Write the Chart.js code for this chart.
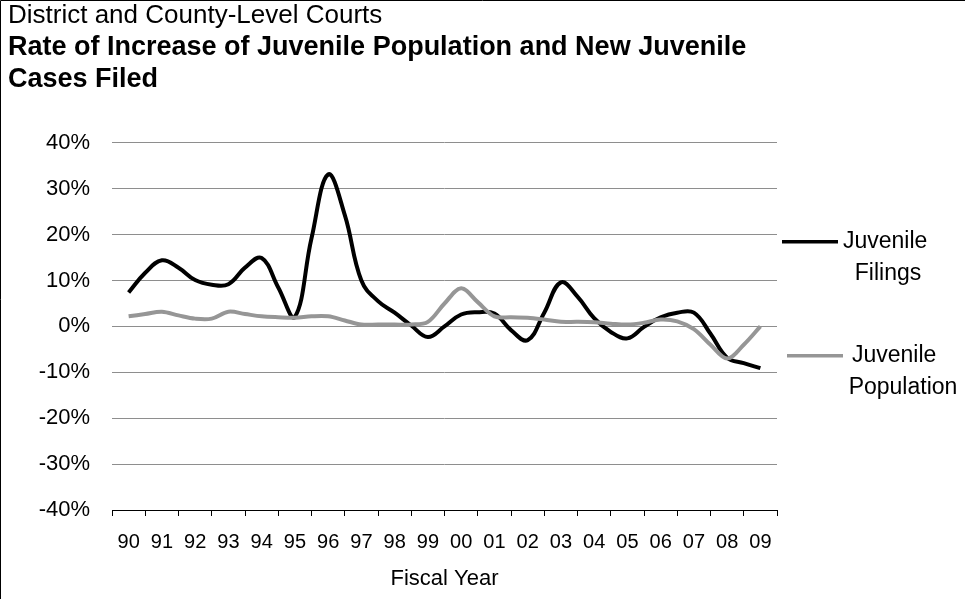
<!DOCTYPE html>
<html>
<head>
<meta charset="utf-8">
<script src="https://cdn.jsdelivr.net/npm/chart.js@4.4.0/dist/chart.umd.min.js"></script>
<style>
  html, body { margin: 0; padding: 0; background: #fff; }
  canvas { display: block; }
</style>
</head>
<body>
<canvas id="chart" width="965" height="599"></canvas>
<script>
// Fiscal year labels on the category axis
const yearLabels = ['90', '91', '92', '93', '94', '95', '96', '97', '98', '99',
                    '00', '01', '02', '03', '04', '05', '06', '07', '08', '09'];

// Half-year readings (%), from 90 through 09
const filings = [7.4, 11.7, 14.4, 12.8, 10.1, 9.1, 9.2, 12.8, 14.9, 8.5,
                 2.1, 19.2, 33.1, 24.3, 10.0, 5.5, 3.0, 0.2, -2.3, 0.0,
                 2.6, 3.1, 2.8, -0.8, -3.0, 3.0, 9.6, 6.5, 1.8, -1.2,
                 -2.6, -0.1, 2.0, 3.0, 3.0, -1.6, -6.8, -8.0, -9.1];
const population = [2.2, 2.7, 3.2, 2.4, 1.7, 1.7, 3.2, 2.7, 2.2, 2.0,
                    1.9, 2.2, 2.2, 1.3, 0.4, 0.4, 0.4, 0.4, 1.0, 5.0,
                    8.3, 5.3, 2.2, 2.0, 1.9, 1.5, 1.0, 1.0, 0.9, 0.6,
                    0.4, 0.8, 1.5, 1.1, -0.6, -4.0, -7.0, -4.0, 0.0];

const seriesNames = [['Juvenile', 'Filings'], ['Juvenile', 'Population']];
const seriesColors = ['#000000', '#969696'];
const yTicks = [-40, -30, -20, -10, 0, 10, 20, 30, 40];

const FONT = "'Liberation Sans', Arial, sans-serif";

// points sit every half year, 0 = centre of '90'
const toPoints = (arr) => arr.map((v, i) => ({x: i / 2, y: v}));

// Legend drawn by hand so the labels can wrap over two lines
const sideLegend = {
  id: 'sideLegend',
  afterDraw(chart) {
    const {ctx, chartArea} = chart;
    const x0 = chartArea.right;
    const items = [
      {lineFrom: 5, lineTo: 61, y: chartArea.top + 99, firstX: 66, centre: 111},
      {lineFrom: 10, lineTo: 66, y: chartArea.top + 213, firstX: 75, centre: 126}
    ];
    ctx.save();
    ctx.font = '23px ' + FONT;
    ctx.fillStyle = '#000';
    ctx.textBaseline = 'middle';
    items.forEach((it, i) => {
      ctx.beginPath();
      ctx.moveTo(x0 + it.lineFrom, it.y);
      ctx.lineTo(x0 + it.lineTo, it.y);
      ctx.strokeStyle = seriesColors[i];
      ctx.lineWidth = 3.5;
      ctx.stroke();
      ctx.textAlign = 'left';
      ctx.fillText(seriesNames[i][0], x0 + it.firstX, it.y);
      ctx.textAlign = 'center';
      ctx.fillText(seriesNames[i][1], x0 + it.centre, it.y + 32);
    });
    // outer frame, left and top edge
    ctx.beginPath();
    ctx.moveTo(0.5, chart.height);
    ctx.lineTo(0.5, 0.5);
    ctx.lineTo(chart.width, 0.5);
    ctx.strokeStyle = '#000';
    ctx.lineWidth = 1;
    ctx.stroke();
    ctx.restore();
  }
};

const chart = new Chart(document.getElementById('chart'), {
  type: 'line',
  data: {
    labels: yearLabels,
    datasets: [
      {
        label: seriesNames[0].join(' '),
        data: toPoints(filings),
        xAxisID: 'xd',
        borderColor: seriesColors[0],
        borderWidth: 4,
        tension: 0.4,
        pointRadius: 0,
        fill: false
      },
      {
        label: seriesNames[1].join(' '),
        data: toPoints(population),
        xAxisID: 'xd',
        borderColor: seriesColors[1],
        borderWidth: 4,
        tension: 0.35,
        pointRadius: 0,
        fill: false
      }
    ].reverse()
  },
  options: {
    responsive: false,
    animation: false,
    layout: { padding: { left: 8, right: 188, top: 0, bottom: 7 } },
    plugins: {
      legend: { display: false },
      tooltip: { enabled: false },
      title: {
        display: true,
        text: 'District and County-Level Courts',
        align: 'start',
        color: '#000',
        font: { family: FONT, size: 26, weight: 'normal', lineHeight: 1.2 },
        padding: { top: 0, bottom: 0 }
      },
      subtitle: {
        display: true,
        text: ['Rate of Increase of Juvenile Population and New Juvenile', 'Cases Filed'],
        align: 'start',
        color: '#000',
        font: { family: FONT, size: 27, weight: 'bold', lineHeight: 1.16 },
        padding: { top: 1, bottom: 48 }
      }
    },
    scales: {
      x: {
        type: 'category',
        position: 'bottom',
        offset: true,
        afterFit: (axis) => { axis.height = 82; },
        grid: { offset: true, drawOnChartArea: false, drawTicks: true, tickLength: 6, color: '#000' },
        border: { display: true, color: '#000', width: 1 },
        ticks: { color: '#000', font: { family: FONT, size: 20 }, padding: 14, maxRotation: 0, autoSkip: false },
        title: {
          display: true,
          text: 'Fiscal Year',
          color: '#000',
          font: { family: FONT, size: 22 },
          padding: { top: 6, bottom: 0 }
        }
      },
      xd: {
        type: 'linear',
        display: false,
        min: -0.5,
        max: 19.5
      },
      y: {
        min: -40,
        max: 40,
        afterBuildTicks: (axis) => { axis.ticks = yTicks.map(v => ({value: v})); },
        afterFit: (axis) => { axis.width = 104; },
        grid: { color: '#8e8e8e', lineWidth: 1, drawTicks: false },
        border: { display: false },
        ticks: {
          color: '#000',
          font: { family: FONT, size: 22 },
          padding: 22,
          callback: (v) => v + '%'
        }
      }
    }
  },
  plugins: [sideLegend]
});
</script>
</body>
</html>
